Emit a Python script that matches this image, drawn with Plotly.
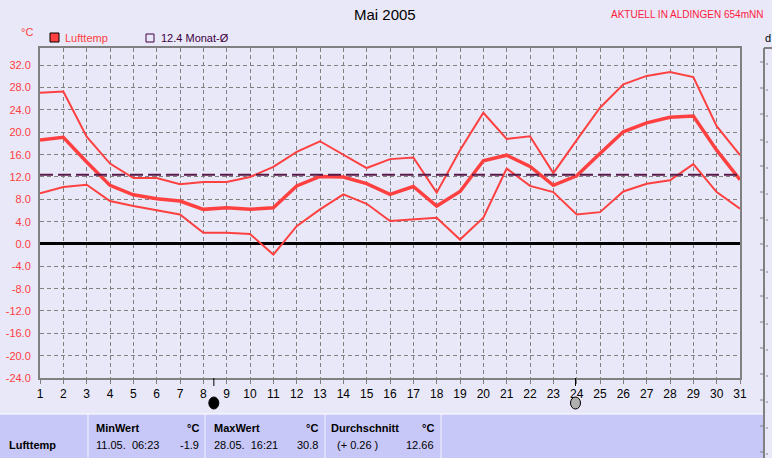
import plotly.graph_objects as go

days = list(range(1, 32))
t_max = [27.1, 27.3, 19.2, 14.4, 11.8, 11.8, 10.7, 11.1, 11.1, 12.0,
         13.8, 16.5, 18.4, 16.0, 13.6, 15.2, 15.5, 9.2, 16.8, 23.5,
         18.8, 19.3, 12.7, 18.6, 24.4, 28.6, 30.1, 30.8, 29.9, 21.1, 15.9]
t_mean = [18.6, 19.1, 14.7, 10.5, 8.8, 8.1, 7.7, 6.2, 6.5, 6.2,
          6.5, 10.4, 12.1, 12.0, 10.8, 8.9, 10.3, 6.8, 9.4, 14.9,
          15.9, 13.9, 10.5, 12.2, 16.2, 20.1, 21.7, 22.7, 22.9, 16.8, 11.5]
t_min = [9.1, 10.2, 10.6, 7.7, 6.8, 6.0, 5.3, 2.0, 2.0, 1.8,
         -1.9, 3.2, 6.2, 8.9, 7.2, 4.1, 4.4, 4.7, 0.8, 4.7,
         13.5, 10.4, 9.3, 5.3, 5.7, 9.4, 10.8, 11.4, 14.3, 9.3, 6.3]
month_avg = 12.4
y_ticks = [-24, -20, -16, -12, -8, -4, 0, 4, 8, 12, 16, 20, 24, 28, 32]
new_moon_day = 8.45
full_moon_day = 23.95

BG = "#E8E8F8"
TABLE = "#C8C8F8"
RED = "#FF4040"
FONT = "Liberation Sans"

# pixel helpers (plot area: x 40..740, y 48..378)
L, R, T, B = 40, 740, 48, 378
def px(x):
    return (x - L) / (R - L)
def py(y):
    return (B - y) / (B - T)

fig = go.Figure()
fig.add_trace(go.Scatter(x=days, y=t_max, mode="lines",
                         line=dict(color=RED, width=2), hoverinfo="skip"))
fig.add_trace(go.Scatter(x=days, y=t_min, mode="lines",
                         line=dict(color=RED, width=2), hoverinfo="skip"))
fig.add_trace(go.Scatter(x=days, y=t_mean, mode="lines",
                         line=dict(color=RED, width=3.5), hoverinfo="skip"))
fig.add_trace(go.Scatter(x=[days[0], days[-1]], y=[month_avg, month_avg], mode="lines",
                         line=dict(color="#5A1848", width=2, dash="13px,5px"),
                         hoverinfo="skip"))

shapes = []
annotations = []

# moon phase markers
shapes.append(dict(type="line", xref="x", yref="paper", x0=new_moon_day, x1=new_moon_day,
                   y0=0, y1=py(386), line=dict(color="black", width=1)))
shapes.append(dict(type="line", xref="x", yref="paper", x0=full_moon_day, x1=full_moon_day,
                   y0=0, y1=py(386), line=dict(color="black", width=1)))
dx = 5 / ((R - L) / 30)
shapes.append(dict(type="circle", xref="x", yref="paper",
                   x0=new_moon_day - dx, x1=new_moon_day + dx, y0=py(397), y1=py(409),
                   fillcolor="black", line=dict(color="black", width=1)))
shapes.append(dict(type="circle", xref="x", yref="paper",
                   x0=full_moon_day - dx, x1=full_moon_day + dx, y0=py(397), y1=py(409),
                   fillcolor="#B0B0B0", line=dict(color="black", width=1)))

# bottom table
shapes.append(dict(type="rect", xref="paper", yref="paper", x0=px(0), x1=px(763),
                   y0=py(414), y1=py(460), fillcolor=TABLE, line=dict(width=0), layer="below"))
shapes.append(dict(type="line", xref="paper", yref="paper", x0=px(0), x1=px(763),
                   y0=py(414), y1=py(414), line=dict(color="white", width=1)))
for sx in [88, 205, 325, 441]:
    shapes.append(dict(type="line", xref="paper", yref="paper", x0=px(sx), x1=px(sx),
                       y0=py(414), y1=py(460), line=dict(color="#F4F4FF", width=1)))

# right partial axis
shapes.append(dict(type="line", xref="paper", yref="paper", x0=px(764), x1=px(764),
                   y0=py(48), y1=py(460), line=dict(color="#808080", width=2)))
shapes.append(dict(type="line", xref="paper", yref="paper", x0=px(764), x1=px(772),
                   y0=py(48), y1=py(48), line=dict(color="#808080", width=2)))
for ty in [62, 88, 114, 140, 166, 192, 218, 244, 270, 296, 322, 348, 374, 400, 426, 452]:
    shapes.append(dict(type="line", xref="paper", yref="paper", x0=px(760), x1=px(763),
                       y0=py(ty), y1=py(ty), line=dict(color="#808080", width=1)))
    shapes.append(dict(type="line", xref="paper", yref="paper", x0=px(766), x1=px(768),
                       y0=py(ty + 2), y1=py(ty + 2), line=dict(color="#808080", width=1)))

# legend
shapes.append(dict(type="rect", xref="paper", yref="paper", x0=px(50), x1=px(59),
                   y0=py(42), y1=py(33), fillcolor=RED, line=dict(color="black", width=1)))
shapes.append(dict(type="rect", xref="paper", yref="paper", x0=px(146), x1=px(154),
                   y0=py(42), y1=py(34), fillcolor=BG, line=dict(color="#400040", width=1)))

def text(x, y, s, size=11, color="black", xanchor="left", bold=False):
    if bold:
        s = "<b>" + s + "</b>"
    annotations.append(dict(x=px(x), y=py(y), xref="paper", yref="paper", text=s,
                            showarrow=False, xanchor=xanchor, yanchor="middle",
                            font=dict(family=FONT, size=size, color=color)))

text(385, 15, "Mai 2005", size=15, xanchor="center")
text(765, 15, "AKTUELL IN ALDINGEN 654mNN", size=10, color="#FF2040", xanchor="right")
text(19, 32, "°C", size=11, color=RED)
text(63, 38, "Lufttemp", size=11, color=RED)
text(159, 38, "12.4 Monat-Ø", size=11, color="#400040")
text(763, 38, "d", size=11)

text(7, 445, "Lufttemp", size=11, bold=True)
text(94, 428, "MinWert", size=11, bold=True)
text(201, 428, "°C", size=11, bold=True, xanchor="right")
text(94, 445, "11.05.  06:23", size=11)
text(201, 445, "-1.9", size=11, xanchor="right")
text(212, 428, "MaxWert", size=11, bold=True)
text(320, 428, "°C", size=11, bold=True, xanchor="right")
text(212, 445, "28.05.  16:21", size=11)
text(320, 445, "30.8", size=11, xanchor="right")
text(329, 428, "Durchschnitt", size=11, bold=True)
text(436, 428, "°C", size=11, bold=True, xanchor="right")
text(335, 445, "(+ 0.26 )", size=11)
text(436, 445, "12.66", size=11, xanchor="right")

fig.update_layout(
    width=772, height=458, autosize=False,
    margin=dict(l=L, r=772 - R, t=T, b=458 - B),
    paper_bgcolor=BG, plot_bgcolor=BG,
    showlegend=False,
    shapes=shapes, annotations=annotations,
    font=dict(family=FONT, size=11),
    xaxis=dict(range=[1, 31], tickvals=days, ticktext=[str(d) for d in days],
               automargin=False,
               showgrid=True, gridcolor="#808080", griddash="4px,3px", gridwidth=1,
               showline=True, linecolor="#808080", linewidth=2, mirror=True,
               ticks="outside", ticklen=4, tickcolor="#808080",
               tickfont=dict(family=FONT, size=12, color="black"),
               zeroline=False, fixedrange=True),
    yaxis=dict(range=[-24, 35.1], tickvals=y_ticks,
               ticktext=[f"{v:.1f}" for v in y_ticks],
               automargin=False,
               showgrid=True, gridcolor="#808080", griddash="4px,3px", gridwidth=1,
               showline=True, linecolor="#808080", linewidth=2, mirror=True,
               ticks="", ticklabelstandoff=5,
               tickfont=dict(family=FONT, size=11, color=RED),
               zeroline=True, zerolinecolor="black", zerolinewidth=3, fixedrange=True),
)

fig.write_html("out.html", config={"displayModeBar": False},
               post_script="document.body.style.margin='0';document.body.style.overflow='hidden';")
